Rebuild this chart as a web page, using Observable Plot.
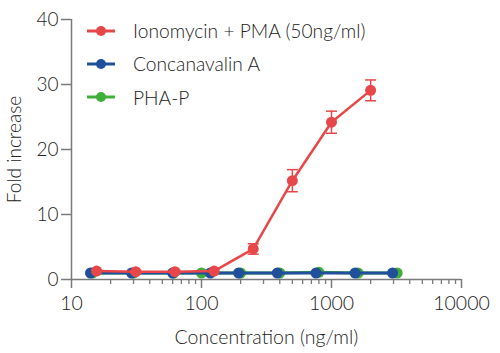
<!DOCTYPE html>
<html>
<head>
<meta charset="utf-8">
<script src="https://cdn.jsdelivr.net/npm/d3@7"></script>
<script src="https://cdn.jsdelivr.net/npm/@observablehq/plot@0.6"></script>
<style>
  body { margin: 0; background: #fff; font-family: Lato, "Open Sans", sans-serif; }
  #wrap { position: relative; width: 500px; height: 353px; }
  #legend { position: absolute; left: 87px; top: 14px; color: #222; font-size: 19.2px; font-weight: 300; }
  .item { display: flex; align-items: center; height: 33.3px; }
  .item span { margin-left: 18px; }
  svg text { font-weight: 300; }
</style>
</head>
<body>
<div id="wrap"><div id="legend"></div></div>
<script>
const seriesNames = ["Ionomycin + PMA (50ng/ml)", "Concanavalin A", "PHA-P"];
const seriesColors = ["#e8474a", "#204f9c", "#3fae3a"];

const redX = [15.6, 31.25, 62.5, 125, 250, 500, 1000, 2000];
const redY = [1.3, 1.2, 1.2, 1.3, 4.7, 15.2, 24.2, 29.1];
const redErr = [0.2, 0.2, 0.2, 0.2, 0.8, 1.7, 1.7, 1.6];

const blueX = [14, 29, 60, 117, 193, 383, 760, 1520, 2950];
const blueY = [1.0, 1.0, 1.0, 1.0, 1.0, 1.0, 1.0, 1.0, 1.0];

const greenX = [14.5, 30, 61, 100, 200, 400, 800, 1600, 3200];
const greenY = [1.0, 1.0, 1.0, 1.0, 1.0, 1.0, 1.1, 1.0, 1.0];

const xMajorTicks = [10, 100, 1000, 10000];
const xMinorTicks = [20, 30, 40, 50, 60, 70, 80, 90, 200, 300, 400, 500, 600, 700, 800, 900, 2000, 3000, 4000, 5000, 6000, 7000, 8000, 9000];
const yTicks = [0, 10, 20, 30, 40];

const red = redX.map((x, i) => ({x, y: redY[i], lo: redY[i] - redErr[i], hi: redY[i] + redErr[i]}));
const blue = blueX.map((x, i) => ({x, y: blueY[i]}));
const green = greenX.map((x, i) => ({x, y: greenY[i]}));

const capSymbol = {
  draw(ctx, size) {
    const w = Math.sqrt(size / Math.PI);
    ctx.moveTo(-w, 0);
    ctx.lineTo(w, 0);
  }
};

const axisColor = "#7a7a7a";
const chart = Plot.plot({
  width: 500,
  height: 353,
  marginLeft: 71,
  marginRight: 39,
  marginTop: 19,
  marginBottom: 74,
  style: {fontFamily: "Lato, 'Open Sans', sans-serif", fontSize: "19.5px", color: "#222", background: "#fff"},
  x: {type: "log", domain: [10, 10000]},
  y: {domain: [0, 40]},
  marks: [
    Plot.ruleY([0], {stroke: axisColor, strokeWidth: 1.5}),
    Plot.ruleX([10], {stroke: axisColor, strokeWidth: 1.5}),
    Plot.axisX({ticks: xMinorTicks, tickSize: 5, tickFormat: () => "", label: null, stroke: axisColor, strokeWidth: 1.3}),
    Plot.axisX({ticks: xMajorTicks, tickSize: 9, tickPadding: 8, tickFormat: d => String(d), stroke: axisColor, strokeWidth: 1.5, fill: "#222", fontSize: 19.5, label: "Concentration (ng/ml)", labelAnchor: "center", labelOffset: 64, labelArrow: "none"}),
    Plot.axisY({ticks: yTicks, tickSize: 10, tickPadding: 3, stroke: axisColor, strokeWidth: 1.5, fill: "#222", fontSize: 19, label: "Fold increase", labelAnchor: "center", labelOffset: 64, labelArrow: "none"}),
    Plot.line(green, {x: "x", y: "y", stroke: seriesColors[2], strokeWidth: 3}),
    Plot.dot(green, {x: "x", y: "y", r: 5.5, fill: seriesColors[2]}),
    Plot.line(blue, {x: "x", y: "y", stroke: seriesColors[1], strokeWidth: 3}),
    Plot.dot(blue, {x: "x", y: "y", r: 5.5, fill: seriesColors[1]}),
    Plot.ruleX(red, {x: "x", y1: "lo", y2: "hi", stroke: seriesColors[0], strokeWidth: 1.5}),
    Plot.dot(red, {x: "x", y: "lo", symbol: capSymbol, r: 5.5, stroke: seriesColors[0], strokeWidth: 1.5}),
    Plot.dot(red, {x: "x", y: "hi", symbol: capSymbol, r: 5.5, stroke: seriesColors[0], strokeWidth: 1.5}),
    Plot.line(red, {x: "x", y: "y", stroke: seriesColors[0], strokeWidth: 2.5}),
    Plot.dot(red, {x: "x", y: "y", r: 5.5, fill: seriesColors[0]})
  ]
});
const wrap = document.getElementById("wrap");
wrap.insertBefore(chart, wrap.firstChild);

const legend = document.getElementById("legend");
seriesNames.forEach((name, i) => {
  const item = document.createElement("div");
  item.className = "item";
  item.innerHTML = `<svg width="28" height="14"><line x1="0" x2="28" y1="7" y2="7" stroke="${seriesColors[i]}" stroke-width="3"/><circle cx="14" cy="7" r="5" fill="${seriesColors[i]}"/></svg><span>${name}</span>`;
  legend.appendChild(item);
});
</script>
</body>
</html>
